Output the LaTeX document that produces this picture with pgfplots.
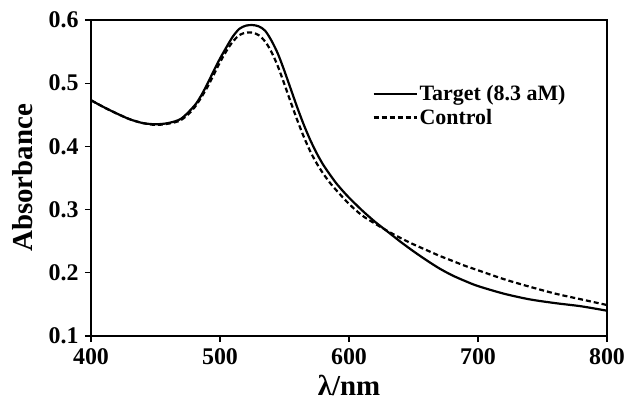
\documentclass[border=0pt]{standalone}
\usepackage{pgfplots}
\pgfplotsset{compat=1.18}
\usepackage{fontspec}
\setmainfont{Liberation Serif}
\begin{document}
\begin{tikzpicture}
\begin{axis}[
  at={(0,0)}, anchor=south west,
  scale only axis,
  width=516bp, height=316bp,
  xmin=400, xmax=800, ymin=0.1, ymax=0.6,
  xtick={400,500,600,700,800},
  ytick={0.1,0.2,0.3,0.4,0.5,0.6},
  yticklabel style={/pgf/number format/fixed,/pgf/number format/precision=1,/pgf/number format/fixed zerofill},
  /pgf/number format/assume math mode=true,
  tick align=outside,
  xtick pos=bottom, ytick pos=left,
  major tick length=6bp,
  tick style={line width=1.2bp, black},
  axis line style={line width=1.5bp, black},
  ticklabel style={font=\bfseries\fontsize{24}{24}\selectfont},
  xticklabel style={yshift=-3bp},
  yticklabel style={xshift=-3bp},
  xlabel={\textbf{λ/nm}},
  ylabel={\textbf{Absorbance}},
  every axis x label/.style={at={(axis description cs:0.5,0)}, yshift=-49bp, anchor=center, font=\bfseries\fontsize{29}{29}\selectfont},
  every axis y label/.style={at={(axis description cs:0,0.5)}, xshift=-68bp, rotate=90, anchor=center, font=\bfseries\fontsize{29}{29}\selectfont},
  legend style={at={(axis description cs:0.545,0.80)}, anchor=north west, draw=none, fill=none,
    font=\bfseries\fontsize{22}{22}\selectfont, row sep=3bp, inner sep=0pt,
    /tikz/every even column/.append style={column sep=0pt}},
  legend cell align=left,
  legend image code/.code={\draw[#1, line width=2.2bp] (0bp,0bp) -- (43bp,0bp);},
]
\addplot[black, line width=2.2bp, smooth] coordinates {
(400,0.473) (410,0.462) (420,0.452) (430,0.443) (440,0.437) (450,0.435) (460,0.437) (470,0.444) (480,0.464) (485,0.479) (490,0.498) (495,0.519) (500,0.539) (505,0.557) (510,0.574) (515,0.586) (520,0.591) (525,0.592) (530,0.590) (535,0.583) (540,0.567) (545,0.546) (550,0.519) (555,0.490) (560,0.461) (565,0.434) (570,0.410) (575,0.389) (580,0.371) (585,0.356) (590,0.342) (595,0.330) (600,0.319) (610,0.299) (620,0.281) (630,0.265) (640,0.249) (650,0.234) (660,0.220) (670,0.207) (680,0.196) (690,0.187) (700,0.179) (720,0.167) (740,0.158) (760,0.152) (780,0.147) (800,0.140)
};
\addlegendentry{Target (8.3 aM)}
\addplot[black, line width=2.2bp, dash pattern=on 5bp off 3bp, smooth] coordinates {
(400,0.473) (410,0.462) (420,0.452) (430,0.443) (440,0.437) (450,0.434) (460,0.436) (470,0.442) (480,0.461) (490,0.493) (500,0.533) (505,0.551) (510,0.566) (515,0.576) (520,0.580) (525,0.580) (530,0.576) (535,0.566) (540,0.549) (545,0.526) (550,0.498) (555,0.469) (560,0.441) (565,0.415) (570,0.392) (575,0.373) (580,0.357) (585,0.343) (590,0.331) (600,0.309) (610,0.291) (620,0.278) (630,0.266) (640,0.255) (650,0.245) (660,0.236) (670,0.227) (680,0.219) (690,0.211) (700,0.204) (720,0.190) (740,0.178) (760,0.167) (780,0.158) (800,0.149)
};
\addlegendentry{Control}
\end{axis}
\pgfresetboundingbox
\path[use as bounding box] (-91bp,-64bp) rectangle (535bp,336bp);
\end{tikzpicture}
\end{document}
